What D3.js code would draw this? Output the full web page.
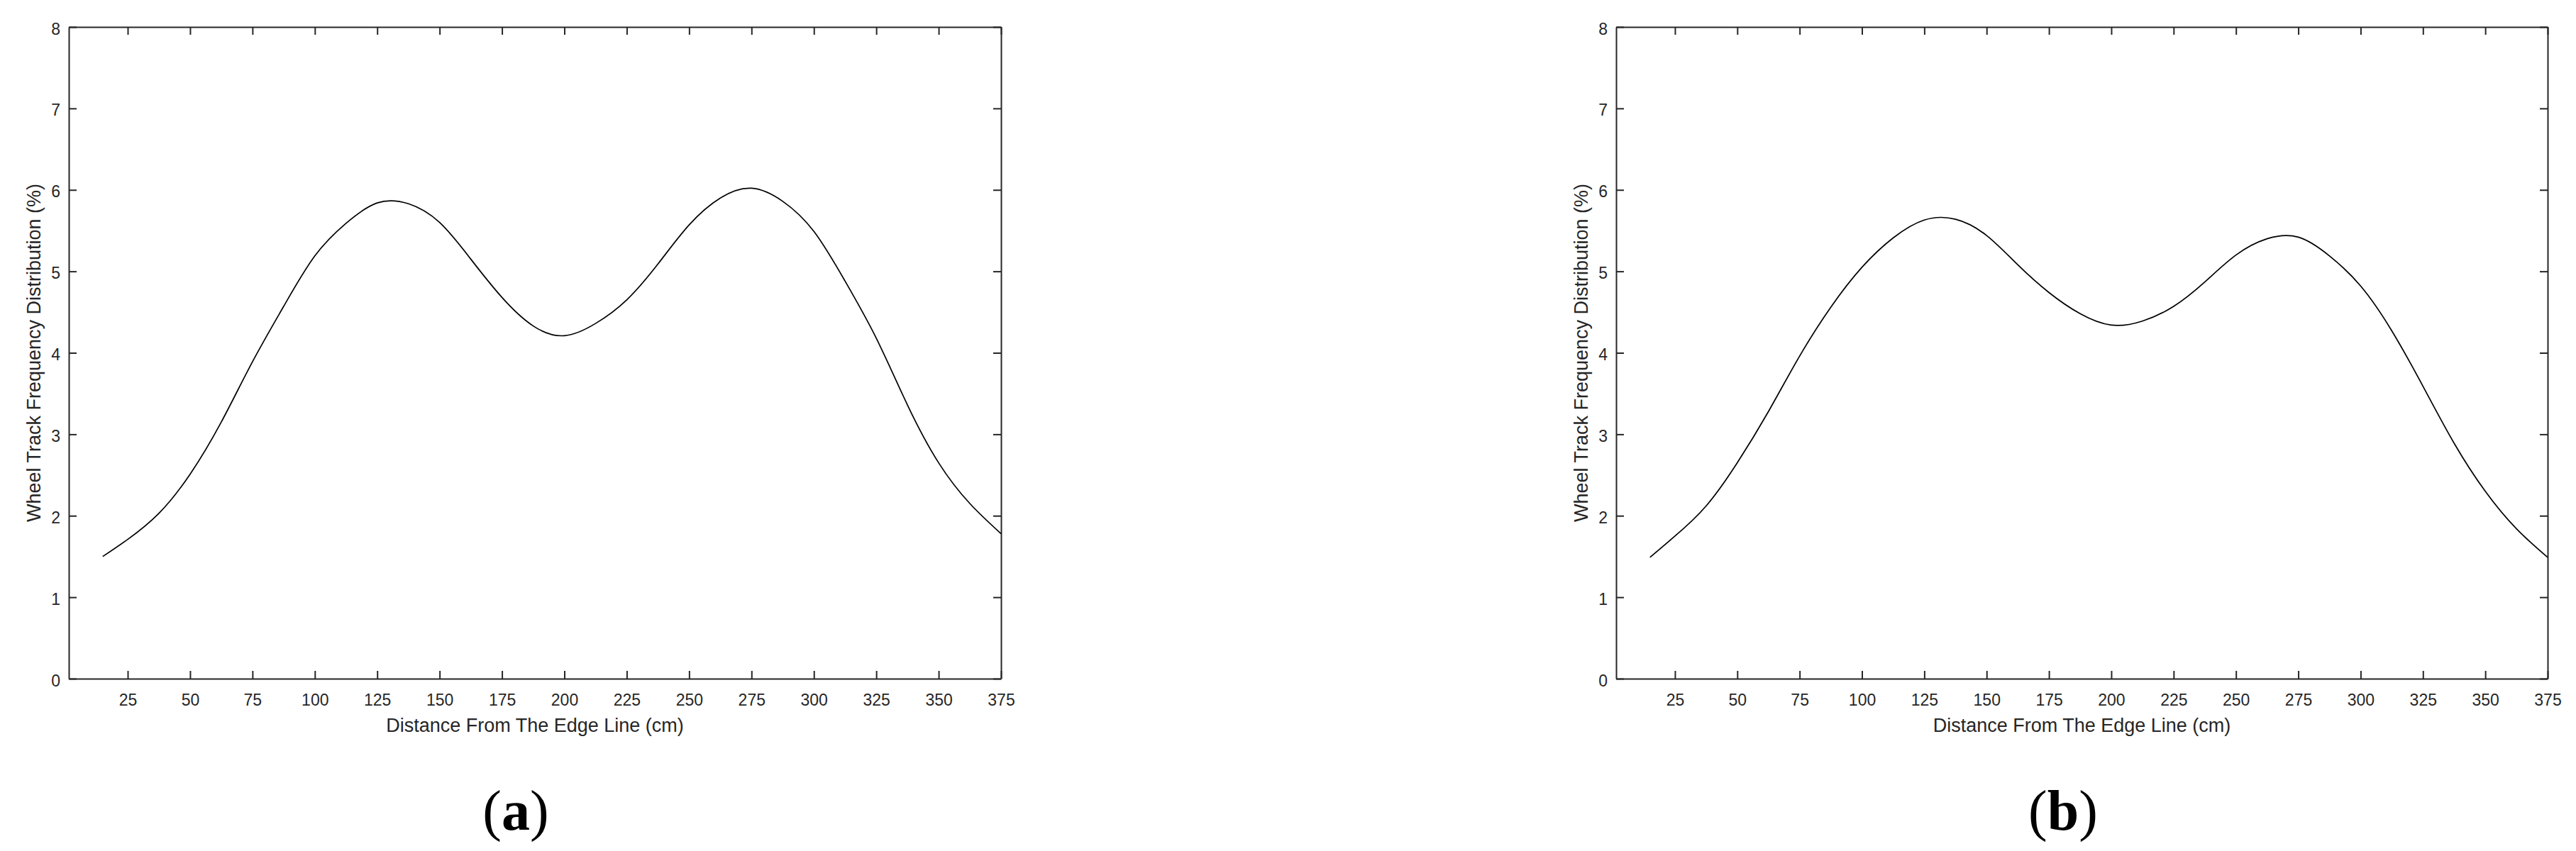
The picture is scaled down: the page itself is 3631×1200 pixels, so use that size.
<!DOCTYPE html>
<html>
<head>
<meta charset="utf-8">
<script src="https://cdn.jsdelivr.net/npm/d3@7"></script>
<style>
  body { margin: 0; background: #fff; }
  svg { display: block; }
</style>
</head>
<body>
<svg id="chart" width="3631" height="1200"></svg>
<script>
// distance from the edge line (cm)
const distances = [15, 25, 37.5, 50, 62.5, 75, 87.5, 100, 112.5, 125, 137.5, 150, 162.5, 175, 187.5,
  200, 212.5, 225, 237.5, 250, 262.5, 275, 287.5, 300, 312.5, 325, 337.5, 350, 362.5, 375];

// wheel track frequency distribution (%) for panel (a)
const trackA = [1.50, 1.71, 2.03, 2.51, 3.15, 3.89, 4.57, 5.19, 5.59, 5.84, 5.83, 5.60, 5.15, 4.68, 4.33,
  4.21, 4.36, 4.65, 5.09, 5.57, 5.90, 6.02, 5.86, 5.49, 4.88, 4.18, 3.36, 2.65, 2.15, 1.78];

// wheel track frequency distribution (%) for panel (b)
const trackB = [1.49, 1.75, 2.12, 2.65, 3.28, 3.96, 4.56, 5.05, 5.41, 5.63, 5.64, 5.44, 5.08, 4.74, 4.48,
  4.34, 4.39, 4.57, 4.87, 5.20, 5.40, 5.42, 5.19, 4.82, 4.27, 3.59, 2.89, 2.30, 1.84, 1.49];

const xTicks = [25, 50, 75, 100, 125, 150, 175, 200, 225, 250, 275, 300, 325, 350, 375];
const yTicks = [0, 1, 2, 3, 4, 5, 6, 7, 8];
const captions = ["a", "b"];

const xLabel = "Distance From The Edge Line (cm)";
const yLabel = "Wheel Track Frequency Distribution (%)";

const svg = d3.select("#chart");
const axisColor = "#262626";
const sans = "'Liberation Sans', Arial, sans-serif";

const plotTop = 38, plotBottom = 957;
const panels = [
  { x0: 97, x1: 1411, values: trackA, caption: captions[0] },
  { x0: 2278, x1: 3591, values: trackB, caption: captions[1] }
];

panels.forEach(p => drawPanel(p));

function drawPanel(p) {
  const x = d3.scaleLinear().domain([1.4, 375]).range([p.x0, p.x1]);
  const y = d3.scaleLinear().domain([0, 8]).range([plotBottom, plotTop]);
  const g = svg.append("g");

  // axes, ticks pointing inward, box on all four sides
  const bottomAxis = g.append("g")
    .attr("transform", `translate(0,${plotBottom})`)
    .call(d3.axisBottom(x).tickValues(xTicks).tickSizeInner(-11).tickSizeOuter(0));
  bottomAxis.selectAll("text").attr("y", 38).attr("dy", 0);

  const leftAxis = g.append("g")
    .attr("transform", `translate(${p.x0},0)`)
    .call(d3.axisLeft(y).tickValues(yTicks).tickSizeInner(-11).tickSizeOuter(0));
  leftAxis.selectAll("text").attr("x", -12).attr("dy", 10);

  g.append("g")
    .attr("transform", `translate(0,${plotTop})`)
    .call(d3.axisTop(x).tickValues(xTicks).tickSizeInner(-11).tickSizeOuter(0).tickFormat(""));
  g.append("g")
    .attr("transform", `translate(${p.x1},0)`)
    .call(d3.axisRight(y).tickValues(yTicks).tickSizeInner(-11).tickSizeOuter(0).tickFormat(""));

  g.selectAll(".domain").attr("stroke", axisColor).attr("stroke-width", 2);
  g.selectAll(".tick line").attr("stroke", axisColor).attr("stroke-width", 2);
  g.selectAll(".tick text")
    .attr("fill", axisColor)
    .style("font-family", sans)
    .style("font-size", "23px");

  // curve
  const line = d3.line()
    .x((d, i) => x(distances[i]))
    .y(d => y(d))
    .curve(d3.curveNatural);

  g.append("path")
    .datum(p.values)
    .attr("fill", "none")
    .attr("stroke", "#000")
    .attr("stroke-width", 1.7)
    .attr("d", line);

  // axis labels
  g.append("text")
    .attr("x", (p.x0 + p.x1) / 2)
    .attr("y", 1032)
    .attr("text-anchor", "middle")
    .attr("fill", axisColor)
    .style("font-family", sans)
    .style("font-size", "27px")
    .text(xLabel);

  g.append("text")
    .attr("transform", `translate(${p.x0 - 40},${(plotTop + plotBottom) / 2}) rotate(-90)`)
    .attr("text-anchor", "middle")
    .attr("fill", axisColor)
    .style("font-family", sans)
    .style("font-size", "27px")
    .text(yLabel);

  // panel caption
  const cap = g.append("text")
    .attr("x", p.x0 + 630)
    .attr("y", 1170)
    .attr("text-anchor", "middle")
    .attr("fill", "#000")
    .style("font-family", "'Liberation Serif', 'Times New Roman', serif")
    .style("font-size", "80px");
  cap.append("tspan").text("(");
  cap.append("tspan").style("font-weight", "bold").text(p.caption);
  cap.append("tspan").text(")");
}
</script>
</body>
</html>
